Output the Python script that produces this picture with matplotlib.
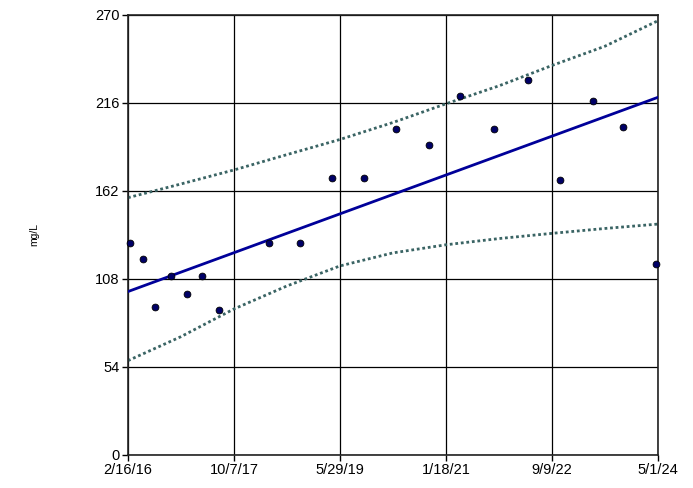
import numpy as np
import matplotlib
matplotlib.use('Agg')
import matplotlib.pyplot as plt
import matplotlib.dates as mdates
from datetime import datetime

plt.rcParams['font.family'] = ['Liberation Sans', 'DejaVu Sans']

# Sample dates and concentrations (mg/L)
sample_dates = ['2016-02-25', '2016-05-10', '2016-07-18', '2016-10-16', '2017-01-14',
                '2017-04-07', '2017-07-14', '2018-04-24', '2018-10-15', '2019-04-12',
                '2019-10-10', '2020-04-08', '2020-10-13', '2021-04-10', '2021-10-14',
                '2022-04-25', '2022-10-23', '2023-04-29', '2023-10-18', '2024-04-18']
values = [130, 120, 91, 110, 99, 110, 89, 130, 130, 170,
          170, 200, 190, 220, 200, 230, 169, 217, 201, 117]

# Trend line end values
trend_dates = ['2016-02-16', '2024-05-01']
trend_values = [100.3, 219.5]

# Confidence band, read at half-tick spacing
band_dates = ['2016-02-16', '2016-12-11', '2017-10-07', '2018-08-02', '2019-05-29',
              '2020-03-23', '2021-01-18', '2021-11-13', '2022-09-09', '2023-07-05',
              '2024-05-01']
band_upper = [157.9, 166.3, 174.9, 184.3, 193.6, 204.0, 215.5, 226.5, 239.0, 250.8, 266.5]
band_lower = [57.9, 72.6, 89.6, 103.7, 116.0, 124.0, 129.0, 132.8, 136.0, 139.0, 141.7]

x_ticks = ['2016-02-16', '2017-10-07', '2019-05-29', '2021-01-18', '2022-09-09', '2024-05-01']
x_tick_labels = ['2/16/16', '10/7/17', '5/29/19', '1/18/21', '9/9/22', '5/1/24']
y_ticks = [0, 54, 108, 162, 216, 270]


def to_num(dates):
    return mdates.date2num([datetime.strptime(d, '%Y-%m-%d') for d in dates])


fig = plt.figure(figsize=(6.93, 4.88), dpi=100)
ax = fig.add_axes([128 / 693, 1 - 455 / 488, 530 / 693, 440 / 488])

bx = to_num(band_dates)
ax.plot(bx, band_upper, color='#3a6464', lw=2.0, linestyle=(0, (1, 1)), zorder=2)
ax.plot(bx, band_lower, color='#3a6464', lw=2.0, linestyle=(0, (1, 1)), zorder=2)
ax.plot(to_num(trend_dates), trend_values, color='#000099', lw=2.0, zorder=3)
ax.scatter(to_num(sample_dates), values, s=24, color='#000066', edgecolor='black',
           linewidth=0.6, zorder=4, clip_on=False)

ax.set_xlim(to_num(x_ticks)[0], to_num(x_ticks)[-1])
ax.set_ylim(0, 270)
ax.set_xticks(to_num(x_ticks))
ax.set_xticklabels(x_tick_labels)
ax.set_yticks(y_ticks)
ax.grid(True, color='black', lw=0.9)
ax.set_axisbelow(True)
for s in ax.spines.values():
    s.set_color('#222222')
    s.set_linewidth(1.2)
ax.tick_params(axis='both', direction='out', length=4, width=1, labelsize=10.5,
               colors='black', pad=2)
ax.set_ylabel('mg/L', fontsize=7.5, labelpad=40)

fig.savefig('out.png', dpi=100)
